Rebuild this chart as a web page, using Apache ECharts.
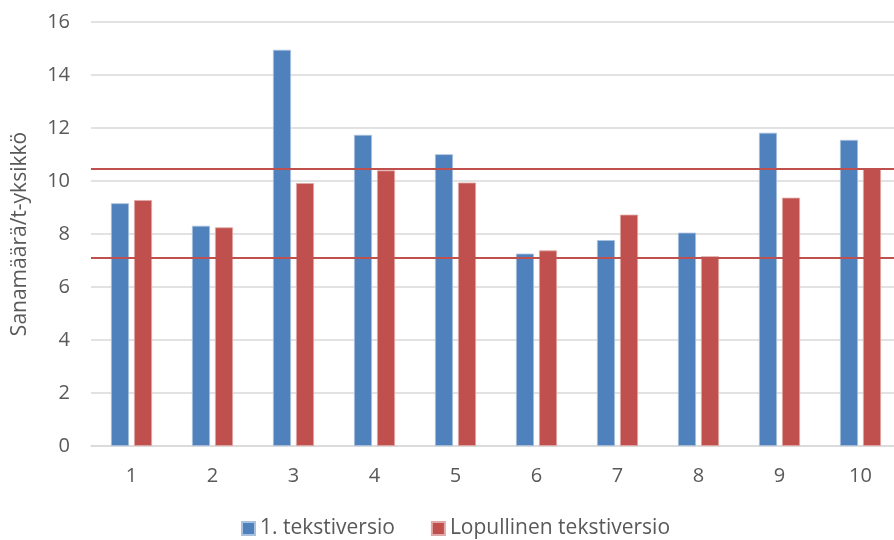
<!DOCTYPE html>
<html>
<head>
<meta charset="utf-8">
<script src="https://cdn.jsdelivr.net/npm/echarts@6/dist/echarts.min.js"></script>
<style>
  html, body { margin: 0; padding: 0; background: #fff; }
  #chart { width: 894px; height: 540px; }
</style>
</head>
<body>
<div id="chart"></div>
<script>
// Text versions compared per text: word count per t-unit
const categories = ['1', '2', '3', '4', '5', '6', '7', '8', '9', '10'];
const firstVersion = [9.16, 8.31, 14.95, 11.74, 11.01, 7.26, 7.77, 8.05, 11.82, 11.55];
const finalVersion = [9.28, 8.25, 9.92, 10.40, 9.94, 7.38, 8.73, 7.16, 9.37, 10.48];
// Reference levels drawn across the plot
const referenceLines = [10.45, 7.09];
const yTicks = { min: 0, max: 16, interval: 2 };

const FONT = '"Open Sans", sans-serif';
const TEXT = '#595959';

const chart = echarts.init(document.getElementById('chart'), null, { renderer: 'canvas' });
chart.setOption({
  animation: false,
  textStyle: { fontFamily: FONT },
  grid: {
    left: 91, width: 810, top: 22, height: 424,
    containLabel: false,
    outerBoundsMode: 'none'
  },
  legend: {
    top: 513,
    left: 236,
    icon: 'rect',
    itemWidth: 13,
    itemHeight: 13,
    itemGap: 36,
    textStyle: { fontFamily: FONT, fontSize: 21, color: TEXT },
    data: ['1. tekstiversio', 'Lopullinen tekstiversio']
  },
  xAxis: {
    type: 'category',
    data: categories,
    axisLine: { lineStyle: { color: '#d9d9d9', width: 1.5 } },
    axisTick: { show: false },
    axisLabel: { color: TEXT, fontSize: 20, fontFamily: FONT, margin: 20 }
  },
  yAxis: {
    type: 'value',
    min: yTicks.min,
    max: yTicks.max,
    interval: yTicks.interval,
    name: 'Sanamäärä/t-yksikkö',
    nameLocation: 'middle',
    nameGap: 60,
    nameTextStyle: { color: TEXT, fontSize: 21, fontFamily: FONT },
    axisLine: { show: false },
    axisTick: { show: false },
    axisLabel: { color: TEXT, fontSize: 20, fontFamily: FONT, margin: 21 },
    splitLine: { lineStyle: { color: '#d9d9d9', width: 1.5 } }
  },
  series: [
    {
      name: '1. tekstiversio',
      type: 'bar',
      data: firstVersion,
      barWidth: 18,
      barGap: '28%',
      itemStyle: { color: '#4f81bd', borderColor: '#a9c0de', borderWidth: 0.8 }
    },
    {
      name: 'Lopullinen tekstiversio',
      type: 'bar',
      data: finalVersion,
      barWidth: 18,
      barGap: '28%',
      itemStyle: { color: '#c0504d', borderColor: '#e0a8a6', borderWidth: 0.8 },
      markLine: {
        silent: true,
        symbol: 'none',
        label: { show: false },
        lineStyle: { color: '#c0504d', width: 2, type: 'solid' },
        data: referenceLines.map(v => ({ yAxis: v }))
      }
    }
  ]
});
</script>
</body>
</html>
